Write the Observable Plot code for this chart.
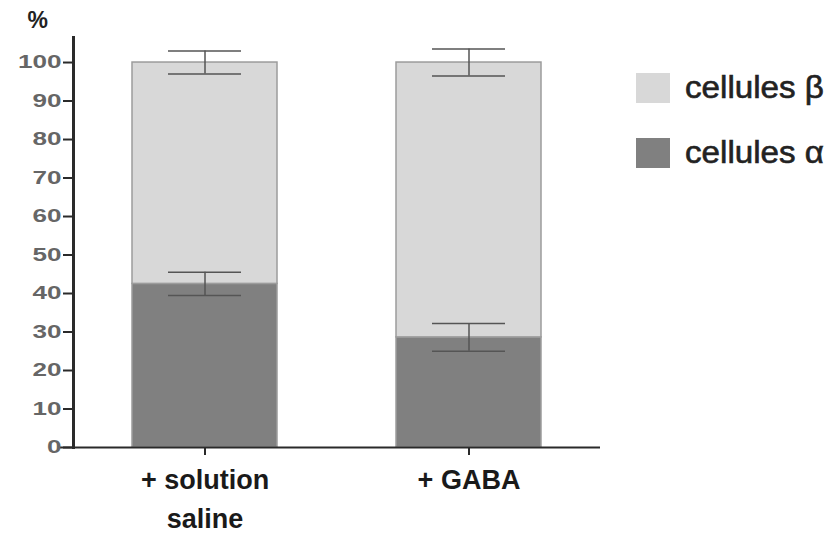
<!DOCTYPE html>
<html>
<head>
<meta charset="utf-8">
<script src="https://cdn.jsdelivr.net/npm/d3@7"></script>
<script src="https://cdn.jsdelivr.net/npm/@observablehq/plot@0.6"></script>
<style>
  body { margin: 0; background: #fff; }
  #wrap { position: relative; width: 835px; height: 538px; font-family: "Liberation Sans", Arial, sans-serif; }
  #legend { position: absolute; left: 636px; top: 72px; }
  .item { display: flex; align-items: center; height: 32px; margin-bottom: 33px; }
  .sw { width: 34px; height: 30px; margin-right: 15px; flex: none; }
  .lab { display: inline-block; font-size: 31px; font-weight: normal; color: #222; -webkit-text-stroke: 0.6px #222; transform: scaleX(1.07); transform-origin: left center; white-space: nowrap; }
  .pct g[aria-label="y-axis label"] text { font-size: 23px; fill: #222; font-weight: 600; }
</style>
</head>
<body>
<div id="wrap"></div>
<script>
const groups = ["+ solution\nsaline", "+ GABA"];
const alphaPct = [42.5, 28.6];
const alphaErr = [3.0, 3.6];
const betaPct = [57.5, 71.4];
const betaErr = [3.0, 3.5];
const cellNames = ["cellules β", "cellules α"];
const cellColors = ["#d8d8d8", "#808080"];
const yTicks = [0, 10, 20, 30, 40, 50, 60, 70, 80, 90, 100];

const rows = [];
groups.forEach((g, i) => {
  rows.push({group: g, cell: cellNames[1], y1: 0, y2: alphaPct[i], err: alphaErr[i]});
  rows.push({group: g, cell: cellNames[0], y1: alphaPct[i], y2: alphaPct[i] + betaPct[i], err: betaErr[i]});
});

const chart = Plot.plot({
  className: "pct",
  width: 835,
  height: 538,
  marginLeft: 73,
  marginRight: 235,
  marginTop: 37,
  marginBottom: 91,
  style: {fontFamily: "'Liberation Sans', Arial, sans-serif", background: "#fff"},
  x: {domain: groups, paddingInner: 0.45, paddingOuter: 0.22},
  y: {domain: [0, 106.5]},
  color: {domain: cellNames, range: cellColors},
  marks: [
    Plot.barY(rows, {x: "group", y1: "y1", y2: "y2", fill: "cell", stroke: "#9c9c9c", strokeWidth: 1.5}),
    Plot.ruleX(rows, {x: "group", y1: d => d.y2 - d.err, y2: d => d.y2 + d.err, stroke: "#555", strokeWidth: 1.5}),
    Plot.tickY(rows, {x: "group", y: d => d.y2 - d.err, stroke: "#555", strokeWidth: 1.5, insetLeft: 36, insetRight: 36}),
    Plot.tickY(rows, {x: "group", y: d => d.y2 + d.err, stroke: "#555", strokeWidth: 1.5, insetLeft: 36, insetRight: 36}),
    Plot.frame({anchor: "left", stroke: "#2a2a2a", strokeWidth: 3}),
    Plot.ruleY([0], {stroke: "#2a2a2a", strokeWidth: 2.2, insetLeft: -13}),
    Plot.axisY({
      ticks: yTicks, tickSize: 10, tickPadding: 2, stroke: "#2a2a2a", strokeWidth: 2,
      fill: "#666", fontSize: 18, fontWeight: 600,
      label: "%", labelAnchor: "top", labelArrow: "none", labelOffset: 46
    }),
    Plot.axisX({
      tickSize: 8, tickPadding: 6, stroke: "#2a2a2a", strokeWidth: 2,
      fill: "#1a1a1a", fontSize: 27, fontWeight: "bold", lineHeight: 1.45, label: null
    })
  ]
});

const wrap = document.getElementById("wrap");
wrap.appendChild(chart);

// widen the y tick label glyphs like the reference's wide digits
chart.querySelectorAll('g[aria-label="y-axis tick label"] text').forEach(t => {
  const w = t.getComputedTextLength();
  t.setAttribute("textLength", (w * 1.45).toFixed(1));
  t.setAttribute("lengthAdjust", "spacingAndGlyphs");
});
// nudge the "%" label down a little
const lg = chart.querySelector('g[aria-label="y-axis label"]');
if (lg) lg.setAttribute("transform", ((lg.getAttribute("transform") || "") + " translate(0,8)").trim());

const legend = document.createElement("div");
legend.id = "legend";
cellNames.forEach((n, i) => {
  const item = document.createElement("div");
  item.className = "item";
  const sw = document.createElement("div");
  sw.className = "sw";
  sw.style.background = cellColors[i];
  const lab = document.createElement("span");
  lab.className = "lab";
  lab.textContent = n;
  item.appendChild(sw);
  item.appendChild(lab);
  legend.appendChild(item);
});
wrap.appendChild(legend);
</script>
</body>
</html>
